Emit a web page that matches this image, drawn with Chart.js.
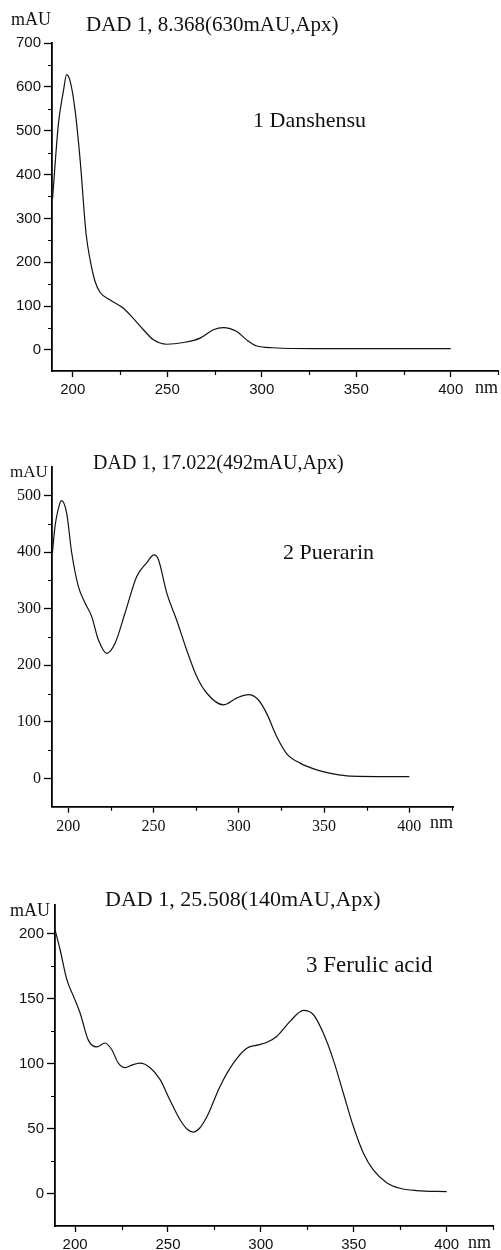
<!DOCTYPE html>
<html>
<head>
<meta charset="utf-8">
<script src="https://cdn.jsdelivr.net/npm/chart.js@4"></script>
<style>
    body { margin: 0; background: #fff; }
    #wrap { position: relative; width: 501px; height: 1250px; overflow: hidden; background: #fff; }
    canvas { position: absolute; left: 0; }
    .txt { position: absolute; font-family: "Liberation Serif", serif; color: #111; line-height: 1; white-space: nowrap; }
</style>
</head>
<body>
<div id="wrap">
    <canvas id="c1" width="501" height="410" style="top:0px"></canvas>
    <canvas id="c2" width="501" height="430" style="top:410px"></canvas>
    <canvas id="c3" width="501" height="410" style="top:840px"></canvas>

    <div class="txt" style="left:11px;top:10px;font-size:18px">mAU</div>
    <div class="txt" style="left:86px;top:14px;font-size:21px">DAD 1, 8.368(630mAU,Apx)</div>
    <div class="txt" style="left:253px;top:109px;font-size:22px">1 Danshensu</div>
    <div class="txt" style="left:475px;top:378px;font-size:18px">nm</div>

    <div class="txt" style="left:10px;top:463px;font-size:17px">mAU</div>
    <div class="txt" style="left:93px;top:452px;font-size:20px">DAD 1, 17.022(492mAU,Apx)</div>
    <div class="txt" style="left:283px;top:541px;font-size:22px">2 Puerarin</div>
    <div class="txt" style="left:430px;top:813px;font-size:18px">nm</div>

    <div class="txt" style="left:10px;top:901px;font-size:18px">mAU</div>
    <div class="txt" style="left:105px;top:888px;font-size:22px">DAD 1, 25.508(140mAU,Apx)</div>
    <div class="txt" style="left:306px;top:953px;font-size:23px">3 Ferulic acid</div>
    <div class="txt" style="left:468px;top:1233px;font-size:18px">nm</div>
</div>

<script>
// wavelengths (nm) and absorbance (mAU)
const wave1 = [189.3, 192.4, 195.1, 196.7, 198.6, 201.2, 203.9, 207, 209.2, 211.8, 214.5, 219.8, 226.8, 232, 237.4, 242.7, 249.7, 258.6, 267.4, 274.4, 279.7, 286.8, 292, 297.4, 306, 329, 400];
const abs1 = [345, 516, 592, 628, 613, 547, 433, 266, 205, 156, 131, 114, 95, 72, 46, 23, 13, 17, 27, 46, 51, 42, 23, 9, 5, 3, 3];

const wave2 = [190.6, 192.2, 195.1, 196, 199, 202, 205.9, 209.8, 213.7, 217.6, 222.5, 227.4, 233.2, 240.1, 245.9, 250.2, 252.8, 257.7, 263.5, 269.4, 275.3, 281.1, 290.9, 298.7, 305.6, 311.4, 316.3, 322.2, 328, 335.9, 345.7, 355.4, 365.2, 400];
const abs2 = [398, 446, 487, 491, 469, 398, 339, 310, 286, 245, 221, 239, 292, 357, 381, 395, 387, 328, 280, 227, 180, 151, 130, 142, 148, 139, 115, 74, 44, 27, 15, 8, 4, 3];

const wave3 = [189.2, 191.9, 195.5, 199.1, 202.7, 207.2, 211.7, 216.1, 219.7, 223.3, 226.9, 230.5, 235, 240.4, 245.7, 251.1, 256.5, 260.5, 263.5, 267, 271, 278, 285.2, 292.4, 298.7, 303.1, 308.5, 315.7, 322.9, 328.3, 333.6, 339, 344.4, 349.8, 355.2, 360.5, 367.7, 374.9, 383.9, 400];
const abs3 = [203, 188, 165, 152, 139, 118, 113, 116, 111, 100.5, 97, 99, 100.5, 97, 88, 72, 57, 49.5, 47.5, 50.5, 59.5, 82.6, 100.5, 112, 114.6, 116.4, 121, 132.6, 141, 137.7, 123.6, 103, 77.4, 51.8, 31.3, 18.5, 8.7, 4.4, 2.6, 1.8];

// tick values
const xMajor = [200, 250, 300, 350, 400];
const xMinor = [225, 275, 325, 375, 425];
const yMajor1 = [0, 100, 200, 300, 400, 500, 600, 700];
const yMinor1 = [50, 150, 250, 350, 450, 550, 650];
const yMajor2 = [0, 100, 200, 300, 400, 500];
const yMinor2 = [50, 150, 250, 350, 450];
const yMajor3 = [0, 50, 100, 150, 200];
const yMinor3 = [25, 75, 125, 175];

// small ticks between the labelled ones
const minorTicks = {
    id: 'minorTicks',
    afterDraw(chart, args, opts) {
        const ctx = chart.ctx;
        const xs = chart.scales.x, ys = chart.scales.y;
        const a = chart.chartArea;
        ctx.save();
        ctx.strokeStyle = '#000';
        ctx.lineWidth = 1.2;
        ctx.beginPath();
        opts.x.forEach(v => {
            if (v < xs.min || v > xs.max) return;
            const px = Math.round(xs.getPixelForValue(v)) + 0.5;
            ctx.moveTo(px, a.bottom);
            ctx.lineTo(px, a.bottom + 4);
        });
        opts.y.forEach(v => {
            if (v < ys.min || v > ys.max) return;
            const py = Math.round(ys.getPixelForValue(v)) + 0.5;
            ctx.moveTo(a.left - 4, py);
            ctx.lineTo(a.left, py);
        });
        ctx.stroke();
        ctx.restore();
    }
};

function toPoints(xs, ys) {
    return xs.map((x, i) => ({ x: x, y: ys[i] }));
}

function cargarEspectro(id, wave, abs, p) {
    const config = {
        type: 'line',
        data: {
            datasets: [{
                data: toPoints(wave, abs),
                borderColor: '#111',
                borderWidth: 1.2,
                pointRadius: 0,
                cubicInterpolationMode: 'monotone',
                fill: false
            }]
        },
        options: {
            responsive: false,
            animation: false,
            devicePixelRatio: 1,
            layout: { padding: { left: 0, top: p.top, right: p.right, bottom: p.bottom } },
            plugins: {
                legend: { display: false },
                tooltip: { enabled: false },
                minorTicks: { x: xMinor, y: p.yMinor }
            },
            scales: {
                x: {
                    type: 'linear',
                    min: p.xMin,
                    max: p.xMax,
                    afterBuildTicks: s => { s.ticks = xMajor.map(v => ({ value: v })); },
                    afterFit: s => { s.height = p.xHeight; },
                    border: { display: true, color: '#000', width: 1.8 },
                    grid: { display: true, drawOnChartArea: false, drawTicks: true, tickLength: 6, tickColor: '#000', tickWidth: 1.3 },
                    ticks: { color: '#111', padding: 4, maxRotation: 0, font: { family: p.font, size: p.fontSize } }
                },
                y: {
                    type: 'linear',
                    min: p.yMin,
                    max: p.yMax,
                    afterBuildTicks: s => { s.ticks = p.yMajor.map(v => ({ value: v })); },
                    afterFit: s => { s.width = p.left; },
                    border: { display: true, color: '#000', width: 1.8 },
                    grid: { display: true, drawOnChartArea: false, drawTicks: true, tickLength: 8, tickColor: '#000', tickWidth: 1.3 },
                    ticks: { color: '#111', padding: 3, font: { family: p.font, size: p.fontSize } }
                }
            }
        },
        plugins: [minorTicks]
    };
    return new Chart(document.getElementById(id), config);
}

cargarEspectro('c1', wave1, abs1, {
    left: 52, top: 43, right: 3, bottom: 9, xHeight: 30,
    xMin: 189, xMax: 425, yMin: -48, yMax: 700,
    yMajor: yMajor1, yMinor: yMinor1,
    font: '"Liberation Sans", sans-serif', fontSize: 15
});

cargarEspectro('c2', wave2, abs2, {
    left: 52, top: 56.7, right: 47.7, bottom: 3.3, xHeight: 30,
    xMin: 190.4, xMax: 425.8, yMin: -50, yMax: 551,
    yMajor: yMajor2, yMinor: yMinor2,
    font: '"Liberation Serif", serif', fontSize: 16
});

cargarEspectro('c3', wave3, abs3, {
    left: 55, top: 65, right: 7.7, bottom: 0, xHeight: 24,
    xMin: 189.2, xMax: 425.1, yMin: -24.6, yMax: 222,
    yMajor: yMajor3, yMinor: yMinor3,
    font: '"Liberation Sans", sans-serif', fontSize: 15
});
</script>
</body>
</html>
